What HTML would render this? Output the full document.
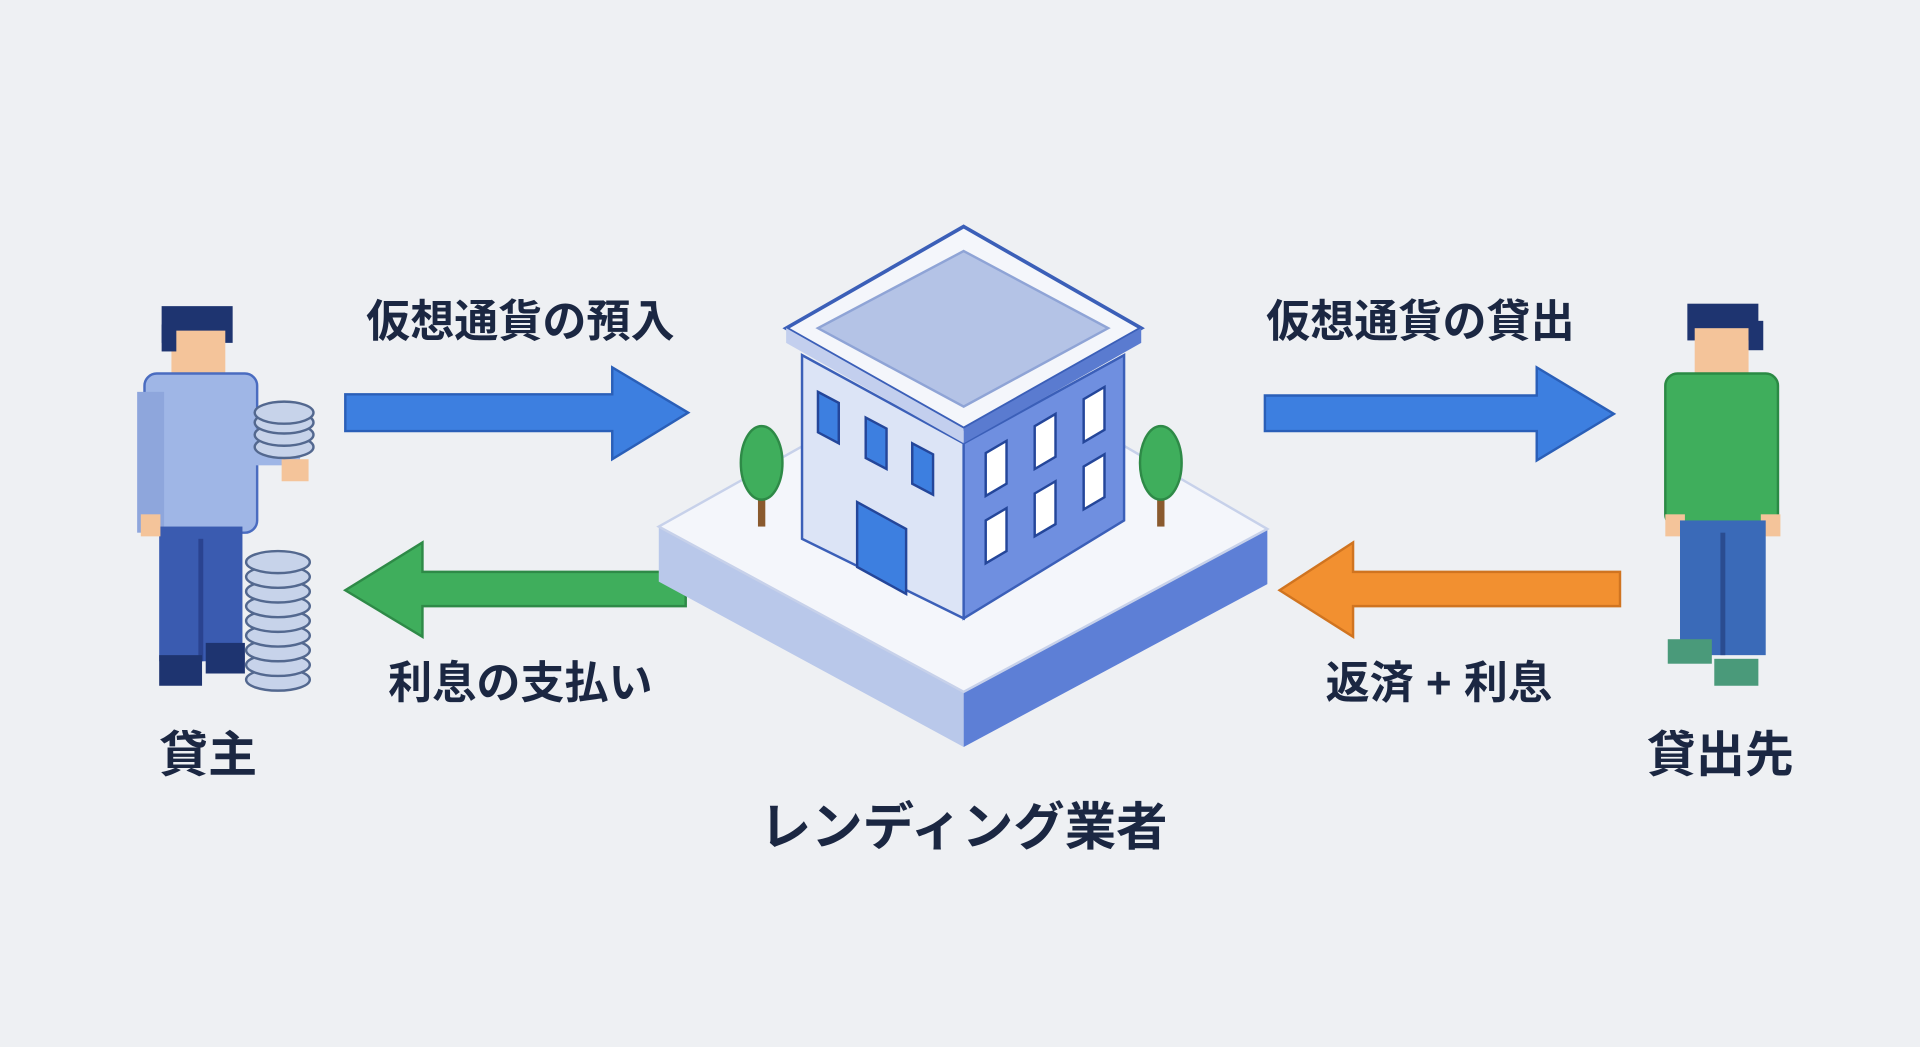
<!DOCTYPE html>
<html><head><meta charset="utf-8"><style>
html,body{margin:0;padding:0;background:#eef0f3;}
svg{display:block}
text{font-family:"Liberation Sans","Noto Sans CJK JP",sans-serif;font-weight:bold;fill:#1b2742;text-anchor:middle}
</style></head><body>
<svg width="1920" height="1047" viewBox="0 0 1568 855" preserveAspectRatio="none" xmlns="http://www.w3.org/2000/svg">
<rect width="1568" height="855" fill="#eef0f3"/>
<!-- arrows -->
<polygon points="282,322 500,322 500,300 562,337 500,375 500,352 282,352" fill="#3d7fe0" stroke="#2a5fb8" stroke-width="2"/>
<polygon points="1033,323 1255,323 1255,300 1318,338 1255,376 1255,352 1033,352" fill="#3d7fe0" stroke="#2a5fb8" stroke-width="2"/>
<polygon points="560,467 345,467 345,443 282,482 345,520 345,495 560,495" fill="#3fae5c" stroke="#2e8a47" stroke-width="2"/>
<polygon points="1323,467 1105,467 1105,443 1045,482 1105,520 1105,495 1323,495" fill="#f29030" stroke="#d07420" stroke-width="2"/>
<!-- labels -->
<text x="425" y="275" font-size="36">仮想通貨の預入</text>
<text x="1160" y="275" font-size="36">仮想通貨の貸出</text>
<text x="425" y="570" font-size="36">利息の支払い</text>
<text x="1175" y="570" font-size="36">返済 + 利息</text>
<text x="170" y="630" font-size="40">貸主</text>
<text x="1405" y="630" font-size="40">貸出先</text>
<text x="787" y="690" font-size="42">レンディング業者</text>
<!-- platform -->
<polygon points="538,430 787,565 787,610 538,475" fill="#b9c8ea"/>
<polygon points="787,565 1035,432 1035,477 787,610" fill="#5d7fd6"/>
<polygon points="538,430 690,345 885,345 1035,432 787,565" fill="#f4f6fb" stroke="#c7d1ea" stroke-width="2"/>
<!-- trees -->
<rect x="619" y="385" width="6" height="45" fill="#8a5a2e"/>
<ellipse cx="622" cy="378" rx="17" ry="30" fill="#3fae5c" stroke="#2e8a47" stroke-width="2"/>
<rect x="945" y="385" width="6" height="45" fill="#8a5a2e"/>
<ellipse cx="948" cy="378" rx="17" ry="30" fill="#3fae5c" stroke="#2e8a47" stroke-width="2"/>
<!-- building -->
<polygon points="655,290 787,362 787,505 655,440" fill="#dce4f6" stroke="#3b5fb8" stroke-width="2"/>
<polygon points="787,362 918,290 918,425 787,505" fill="#6f8fe0" stroke="#3b5fb8" stroke-width="2"/>
<polygon points="787,185 932,268 787,350 642,268" fill="#f4f6fb" stroke="#3b5fb8" stroke-width="3"/>
<polygon points="787,205 905,268 787,332 668,268" fill="#b4c3e6" stroke="#8fa4d6" stroke-width="2"/>
<polygon points="642,268 787,350 787,362 642,280" fill="#c3cfee"/>
<polygon points="787,350 932,268 932,280 787,362" fill="#5a7bd0"/>
<!-- left windows -->
<g fill="#3d7fe0" stroke="#24469a" stroke-width="2">
<polygon points="668,320 685,329 685,362 668,353"/>
<polygon points="707,341 724,350 724,383 707,374"/>
<polygon points="745,362 762,371 762,404 745,395"/>
<polygon points="700,410 740,432 740,485 700,463"/>
</g>
<g fill="#ffffff" stroke="#24469a" stroke-width="2">
<polygon points="805,370 822,360 822,395 805,405"/>
<polygon points="845,348 862,338 862,373 845,383"/>
<polygon points="885,326 902,316 902,351 885,361"/>
<polygon points="805,425 822,415 822,450 805,460"/>
<polygon points="845,403 862,393 862,428 845,438"/>
<polygon points="885,381 902,371 902,406 885,416"/>
</g>
<!-- left person -->
<g>
<rect x="132" y="250" width="58" height="30" fill="#1e3470"/>
<rect x="140" y="270" width="44" height="40" fill="#f4c49a"/>
<rect x="132" y="265" width="12" height="22" fill="#1e3470"/>
<rect x="118" y="305" width="92" height="130" rx="10" fill="#9fb6e6" stroke="#4a6cc0" stroke-width="2"/>
<rect x="112" y="320" width="22" height="115" fill="#8ea6dc"/>
<rect x="205" y="350" width="40" height="30" fill="#9fb6e6"/>
<rect x="130" y="430" width="68" height="110" fill="#3a5bb0"/>
<rect x="162" y="440" width="4" height="100" fill="#2a4390"/>
<rect x="130" y="535" width="35" height="25" fill="#1e3470"/>
<rect x="168" y="525" width="32" height="25" fill="#1e3470"/>
<rect x="115" y="420" width="16" height="18" fill="#f4c49a"/>
<rect x="230" y="375" width="22" height="18" fill="#f4c49a"/>
<g fill="#c7d3ea" stroke="#53688f" stroke-width="2">
<ellipse cx="232" cy="365" rx="24" ry="9"/><ellipse cx="232" cy="355" rx="24" ry="9"/><ellipse cx="232" cy="345" rx="24" ry="9"/><ellipse cx="232" cy="337" rx="24" ry="9"/>
<ellipse cx="227" cy="555" rx="26" ry="9"/><ellipse cx="227" cy="543" rx="26" ry="9"/><ellipse cx="227" cy="531" rx="26" ry="9"/><ellipse cx="227" cy="519" rx="26" ry="9"/><ellipse cx="227" cy="507" rx="26" ry="9"/><ellipse cx="227" cy="495" rx="26" ry="9"/><ellipse cx="227" cy="483" rx="26" ry="9"/><ellipse cx="227" cy="471" rx="26" ry="9"/><ellipse cx="227" cy="459" rx="26" ry="9"/>
</g>
</g>
<!-- right person -->
<g>
<rect x="1378" y="248" width="58" height="30" fill="#1e3470"/>
<rect x="1384" y="268" width="44" height="42" fill="#f4c49a"/>
<rect x="1428" y="262" width="12" height="24" fill="#1e3470"/>
<rect x="1360" y="305" width="92" height="125" rx="10" fill="#3fae5c" stroke="#2a8a44" stroke-width="2"/>
<rect x="1360" y="420" width="16" height="18" fill="#f4c49a"/>
<rect x="1438" y="420" width="16" height="18" fill="#f4c49a"/>
<rect x="1372" y="425" width="70" height="110" fill="#3a6ab8"/>
<rect x="1405" y="435" width="4" height="100" fill="#2a4c90"/>
<rect x="1362" y="522" width="36" height="20" fill="#4a9a7a"/>
<rect x="1400" y="538" width="36" height="22" fill="#4a9a7a"/>
</g>
</svg>
</body></html>
